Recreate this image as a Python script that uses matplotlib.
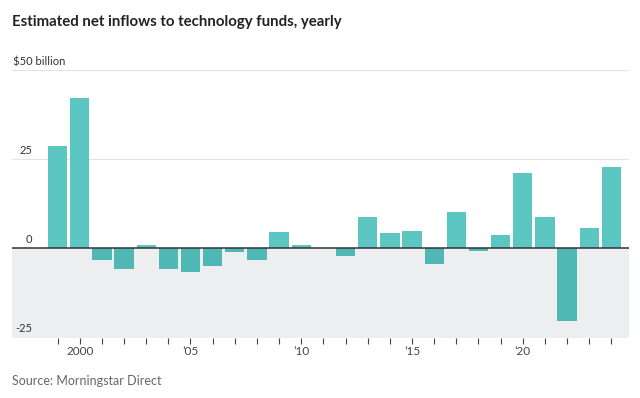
import matplotlib
matplotlib.use("Agg")
import matplotlib.pyplot as plt

# yearly net inflows, $ billion
years = list(range(1999, 2025))
inflows = [28.6, 42.2, -3.4, -6.1, 0.85, -6.1, -6.8, -5.1, -1.1, -3.4,
           4.3, 0.85, 0.0, -2.3, 8.7, 4.0, 4.7, -4.5, 10.1, -0.85,
           3.7, 20.9, 8.7, -20.7, 5.4, 22.7]
ytick_vals = [50, 25, 0, -25]
ytick_labels = ["$50 billion", "25", "0", "-25"]
xtick_years = [2000, 2005, 2010, 2015, 2020]
xtick_labels = ["2000", "\u201905", "\u201910", "\u201915", "\u201920"]

plt.rcParams["font.family"] = ["Lato", "DejaVu Sans"]

fig = plt.figure(figsize=(6.4, 3.98), dpi=100)
ax = fig.add_axes([0.019, 0.151, 0.964, 0.673])

ymin, ymax = -25.4, 50
xmin, xmax = 1996.95, 2024.8
ax.set_xlim(xmin, xmax)
ax.set_ylim(ymin, ymax)

# grey background below zero
ax.axhspan(ymin, 0, color="#edeef0", zorder=0, lw=0)
for v in [25, 50]:
    ax.axhline(v, color="#e3e3e3", lw=0.8, zorder=1)

pos_c = "#5cc6c2"
neg_c = "#4fb8b4"
colors = [pos_c if v >= 0 else neg_c for v in inflows]
ax.bar(years, inflows, width=0.87, color=colors, zorder=2)
ax.axhline(0, color="#333333", lw=1.1, zorder=3)

for v, lab in zip(ytick_vals, ytick_labels):
    if v == 50:
        ax.text(0.0015, v + 0.7, lab, transform=ax.get_yaxis_transform(),
                ha="left", va="bottom", fontsize=8, color="#333333")
    else:
        ax.text(0.033, v + 0.7, lab, transform=ax.get_yaxis_transform(),
                ha="right", va="bottom", fontsize=8, color="#333333")

ax.set_xticks(years, minor=True)
ax.set_xticks(xtick_years)
ax.set_xticklabels(xtick_labels, fontsize=8.5, color="#444444")
ax.tick_params(axis="x", which="both", length=4, width=0.8, color="#444444",
               direction="out", pad=2)
ax.set_yticks([])
for s in ax.spines.values():
    s.set_visible(False)

fig.text(0.019, 0.945, "Estimated net inflows to technology funds, yearly",
         fontsize=10.8, fontweight="bold", color="#222222", va="center")
fig.text(0.019, 0.043, "Source: Morningstar Direct", fontsize=9,
         color="#666666", va="center")

fig.savefig("out.png", dpi=100)
